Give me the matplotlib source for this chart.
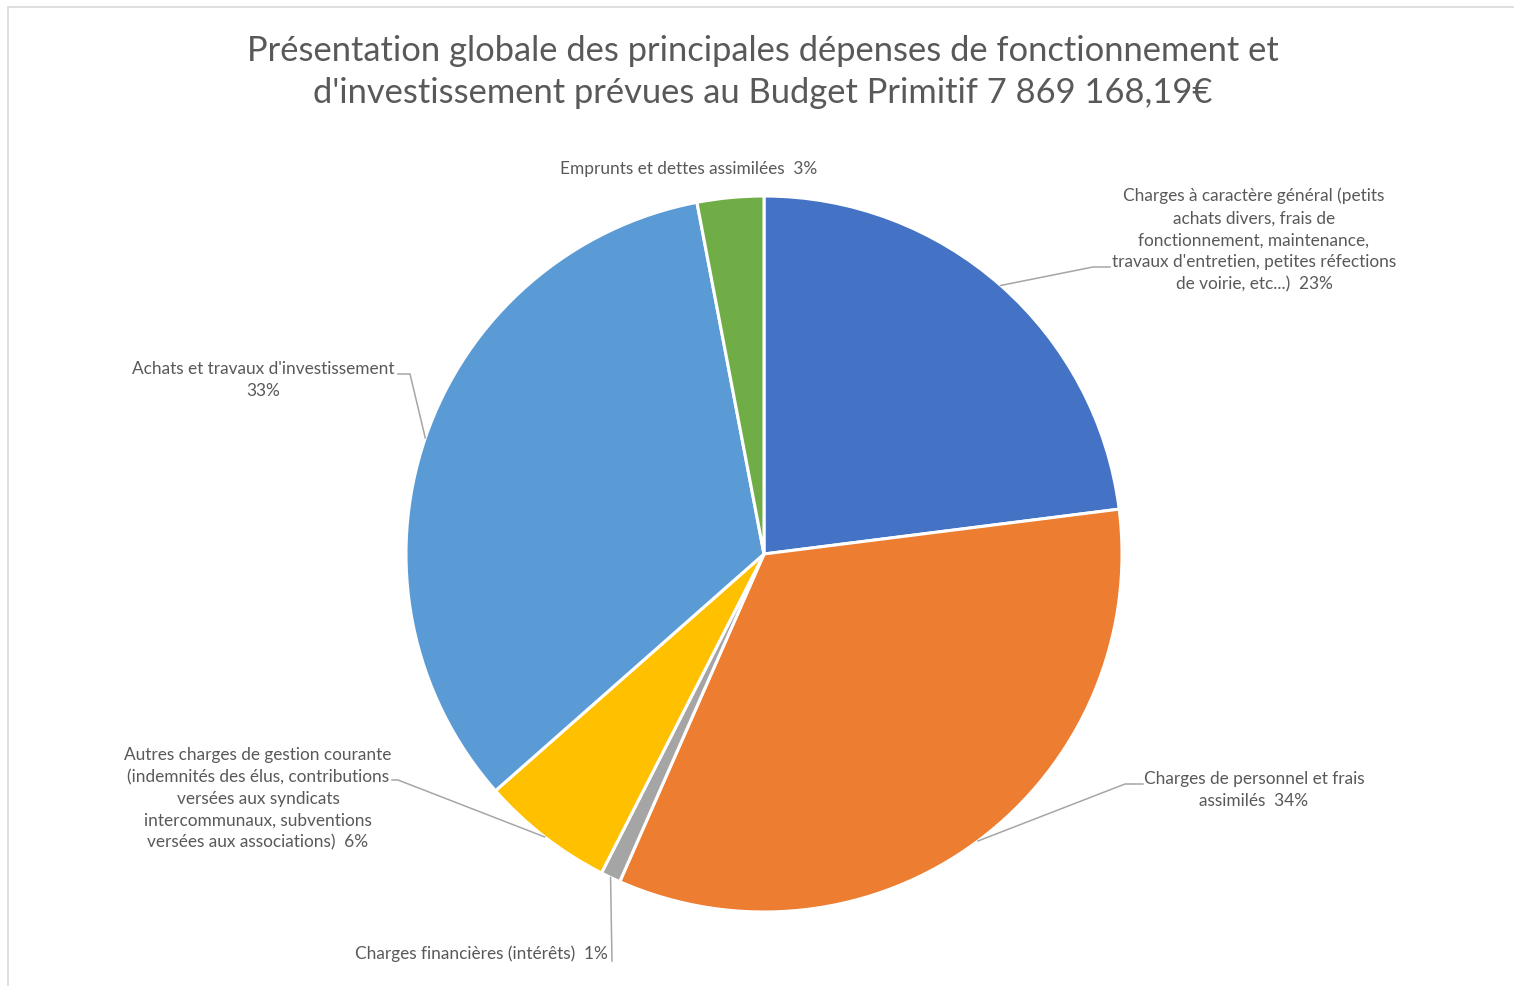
import matplotlib
matplotlib.use("Agg")
import matplotlib.pyplot as plt
import numpy as np
from matplotlib.patches import Rectangle

labels = [
    "Charges à caractère général (petits\nachats divers, frais de\nfonctionnement, maintenance,\ntravaux d'entretien, petites réfections\nde voirie, etc...)  23%",
    "Charges de personnel et frais\nassimilés  34%",
    "Charges financières (intérêts)  1%",
    "Autres charges de gestion courante\n(indemnités des élus, contributions\nversées aux syndicats\nintercommunaux, subventions\nversées aux associations)  6%",
    "Achats et travaux d'investissement\n33%",
    "Emprunts et dettes assimilées  3%",
]
shares = [23.0, 33.6, 0.9, 6.0, 33.5, 3.0]
colors = ["#4472C4", "#ED7D31", "#A5A5A5", "#FFC000", "#5B9BD5", "#70AD47"]
title = "Présentation globale des principales dépenses de fonctionnement et\nd'investissement prévues au Budget Primitif 7 869 168,19€"

W, H = 1514, 987
plt.rcParams['font.family'] = ['Lato', 'DejaVu Sans']
fig = plt.figure(figsize=(W / 100, H / 100), dpi=100)
ax = fig.add_axes([0, 0, 1, 1])

def Y(py):
    return H - py

cx, cy, R = 764, Y(555), 358
wedges, _ = ax.pie(shares, colors=colors, startangle=90, counterclock=False,
                   center=(cx, cy), radius=R, frame=True,
                   wedgeprops=dict(edgecolor="white", linewidth=2.2))
ax.set_xlim(0, W)
ax.set_ylim(0, H)
ax.set_aspect("auto")
ax.axis("off")

# border
fig.patches.append(Rectangle((8 / W, -0.01), 1.1, (H - 8) / H + 0.01, transform=fig.transFigure,
                             fill=False, edgecolor="#D9D9D9", linewidth=1.2))

txtc = "#595959"
ax.text(763, Y(72), title, ha="center", va="center", fontsize=24.8, color=txtc,
        linespacing=1.4)

def anchor(w):
    a = np.deg2rad((w.theta1 + w.theta2) / 2)
    return cx + R * np.cos(a), cy + R * np.sin(a)

lc = "#A6A6A6"
# label layout: (text x, text y (px), ha, elbow points in px)
layout = [
    (1254, 240, "center", [(1093, 268), (1110, 268)]),
    (1254, 790, "center", [(1125, 785), (1143, 785)]),
    (608, 954, "right", [(612, 962)]),
    (258, 799, "center", [(398, 781), (392, 781)]),
    (263, 380, "center", [(410, 375), (398, 375)]),
    (689, 169, "center", []),
]
for w, lab, (tx, ty, ha, pts) in zip(wedges, labels, layout):
    ax.text(tx, Y(ty), lab, ha=ha, va="center", fontsize=12.4, color=txtc,
            linespacing=1.45, multialignment="center")
    if pts:
        ax0, ay0 = anchor(w)
        xs = [ax0] + [p[0] for p in pts]
        ys = [ay0] + [Y(p[1]) for p in pts]
        ax.plot(xs, ys, color=lc, linewidth=1.1)

fig.savefig("out.png", dpi=100, facecolor="white")
